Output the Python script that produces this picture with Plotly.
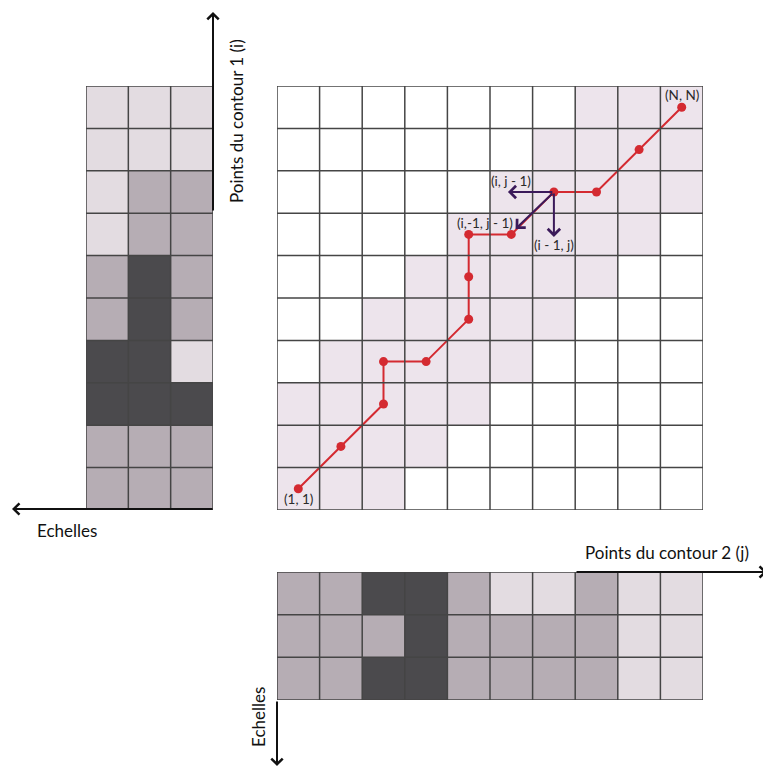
import plotly.graph_objects as go

W = H = 763      # page body has an 8 px margin; 763 + 8 = 771
OFF = 8
FONT = "Lato, 'Open Sans', sans-serif"

# ---- data -------------------------------------------------------------
# main DTW grid: band mask, rows listed from top (i = 9) to bottom (i = 0)
band_rows = [
    [0, 0, 0, 0, 0, 0, 0, 1, 1, 1],
    [0, 0, 0, 0, 0, 0, 1, 1, 1, 1],
    [0, 0, 0, 0, 0, 1, 1, 1, 1, 1],
    [0, 0, 0, 0, 1, 1, 1, 1, 1, 0],
    [0, 0, 0, 1, 1, 1, 1, 1, 0, 0],
    [0, 0, 1, 1, 1, 1, 1, 0, 0, 0],
    [0, 1, 1, 1, 1, 1, 0, 0, 0, 0],
    [1, 1, 1, 1, 1, 0, 0, 0, 0, 0],
    [1, 1, 1, 1, 0, 0, 0, 0, 0, 0],
    [1, 1, 1, 0, 0, 0, 0, 0, 0, 0],
]
row_index = [9, 8, 7, 6, 5, 4, 3, 2, 1, 0]
col_index = [0, 1, 2, 3, 4, 5, 6, 7, 8, 9]

# warping path (j, i)
path_j = [0, 1, 2, 2, 3, 4, 4, 4, 5, 6, 7, 8, 9]
path_i = [0, 1, 2, 3, 3, 4, 5, 6, 6, 7, 7, 8, 9]

# contour 1 multi-scale descriptors (rows top->bottom, 3 scales)
# levels: 2 = light, 3 = medium, 4 = dark
scales1 = [
    [2, 2, 2],
    [2, 2, 2],
    [2, 3, 3],
    [2, 3, 3],
    [3, 4, 3],
    [3, 4, 3],
    [4, 4, 2],
    [4, 4, 4],
    [3, 3, 3],
    [3, 3, 3],
]
# contour 2 multi-scale descriptors (3 scales top->bottom, 10 points)
scales2 = [
    [3, 3, 4, 4, 3, 2, 2, 3, 2, 2],
    [3, 3, 3, 4, 3, 3, 3, 3, 2, 2],
    [3, 3, 4, 4, 3, 3, 3, 3, 2, 2],
]

# neighbour arrows from cell (i, j) = (7, 6): heads
arrow_from = (6, 7)
arrow_heads = [(4.92, 7.0), (5.1, 6.13), (6.0, 5.94)]

labels = ["(i, j - 1)", "(i,-1, j - 1)", "(i - 1, j)", "(N, N)", "(1, 1)"]
label_x = [5.0, 4.39, 6.0, 9.01, 0.0]
label_y = [7.27, 6.27, 5.74, 9.28, -0.24]

# ---- style -------------------------------------------------------------
WHITE, BAND, LIGHT, MID, DARK = "#ffffff", "#ede4ec", "#e3dce1", "#b6adb4", "#4b4a4d"
cscale = [[0, WHITE], [0.125, WHITE], [0.125, BAND], [0.375, BAND],
          [0.375, LIGHT], [0.625, LIGHT], [0.625, MID], [0.875, MID],
          [0.875, DARK], [1, DARK]]
RED = "#d42a31"
PURPLE = "#3b1a5a"
GRID = "#454545"


def px(x):
    return (x - OFF) / W


def py(y):
    return 1 - (y - OFF) / H


fig = go.Figure()

hm = dict(colorscale=cscale, zmin=0, zmax=4, showscale=False, hoverinfo="skip")
fig.add_trace(go.Heatmap(z=band_rows, x=col_index, y=row_index, xaxis="x", yaxis="y", **hm))
fig.add_trace(go.Heatmap(z=scales1, x=[0, 1, 2], y=list(range(10)), xaxis="x2", yaxis="y2", **hm))
fig.add_trace(go.Heatmap(z=scales2, x=list(range(10)), y=[0, 1, 2], xaxis="x3", yaxis="y3", **hm))

fig.add_trace(go.Scatter(x=path_j, y=path_i, mode="lines+markers", xaxis="x", yaxis="y",
                         line=dict(color=RED, width=2),
                         marker=dict(color=RED, size=9), hoverinfo="skip"))

shapes = []


def grid_lines(xr, yr, ncol, nrow):
    for k in range(ncol + 1):
        shapes.append(dict(type="line", xref=xr, yref=yr, x0=k - 0.5, x1=k - 0.5,
                           y0=-0.5, y1=nrow - 0.5, line=dict(color=GRID, width=1.5),
                           layer="above"))
    for k in range(nrow + 1):
        shapes.append(dict(type="line", xref=xr, yref=yr, y0=k - 0.5, y1=k - 0.5,
                           x0=-0.5, x1=ncol - 0.5, line=dict(color=GRID, width=1.5),
                           layer="above"))


grid_lines("x", "y", 10, 10)
grid_lines("x2", "y2", 3, 10)
grid_lines("x3", "y3", 10, 3)

ann = []
for hx, hy in arrow_heads:
    ann.append(dict(x=hx, y=hy, xref="x", yref="y", ax=arrow_from[0], ay=arrow_from[1],
                    axref="x", ayref="y", text="", showarrow=True, arrowhead=4,
                    arrowsize=1.2, arrowwidth=2, arrowcolor=PURPLE))
for t, lx, ly in zip(labels, label_x, label_y):
    ann.append(dict(x=lx, y=ly, xref="x", yref="y", text=t, showarrow=False,
                    xanchor="center", yanchor="middle",
                    font=dict(family=FONT, size=13.5, color="#2a2a2a")))

# axis arrows (paper coords, positions in page pixels)
axis_arrows = [
    ((213, 12), (0, 200)),
    ((12, 509), (202, 0)),
    ((767, 572), (-192, 0)),
    ((277, 766), (0, -66)),
]
for (hx, hy), (dx, dy) in axis_arrows:
    ann.append(dict(x=px(hx), y=py(hy), xref="paper", yref="paper", ax=dx, ay=dy,
                    text="", showarrow=True, arrowhead=4, arrowsize=1.1, arrowwidth=2,
                    arrowcolor="#111111"))

axis_font = dict(family=FONT, size=17, color="#111")
ann += [
    dict(x=px(236), y=py(121), xref="paper", yref="paper", text="Points du contour 1 (i)",
         textangle=-90, showarrow=False, xanchor="center", yanchor="middle", font=axis_font),
    dict(x=px(67), y=py(530), xref="paper", yref="paper", text="Echelles",
         showarrow=False, xanchor="center", yanchor="middle", font=axis_font),
    dict(x=px(667), y=py(552), xref="paper", yref="paper", text="Points du contour 2 (j)",
         showarrow=False, xanchor="center", yanchor="middle", font=axis_font),
    dict(x=px(258), y=py(717), xref="paper", yref="paper", text="Echelles",
         textangle=-90, showarrow=False, xanchor="center", yanchor="middle", font=axis_font),
]

ax_common = dict(visible=False, showgrid=False, zeroline=False, fixedrange=True)
fig.update_layout(
    width=W, height=H, margin=dict(l=0, r=0, t=0, b=0),
    paper_bgcolor="white", plot_bgcolor="white", showlegend=False,
    xaxis=dict(domain=[px(277), px(703)], range=[-0.5, 9.5], anchor="y", **ax_common),
    yaxis=dict(domain=[py(510), py(86)], range=[-0.5, 9.5], anchor="x", **ax_common),
    xaxis2=dict(domain=[px(86), px(213)], range=[-0.5, 2.5], anchor="y2", **ax_common),
    yaxis2=dict(domain=[py(510), py(86)], range=[9.5, -0.5], anchor="x2", **ax_common),
    xaxis3=dict(domain=[px(277), px(703)], range=[-0.5, 9.5], anchor="y3", **ax_common),
    yaxis3=dict(domain=[py(700), py(572)], range=[2.5, -0.5], anchor="x3", **ax_common),
    shapes=shapes, annotations=ann,
)

fig.write_html("out.html")
